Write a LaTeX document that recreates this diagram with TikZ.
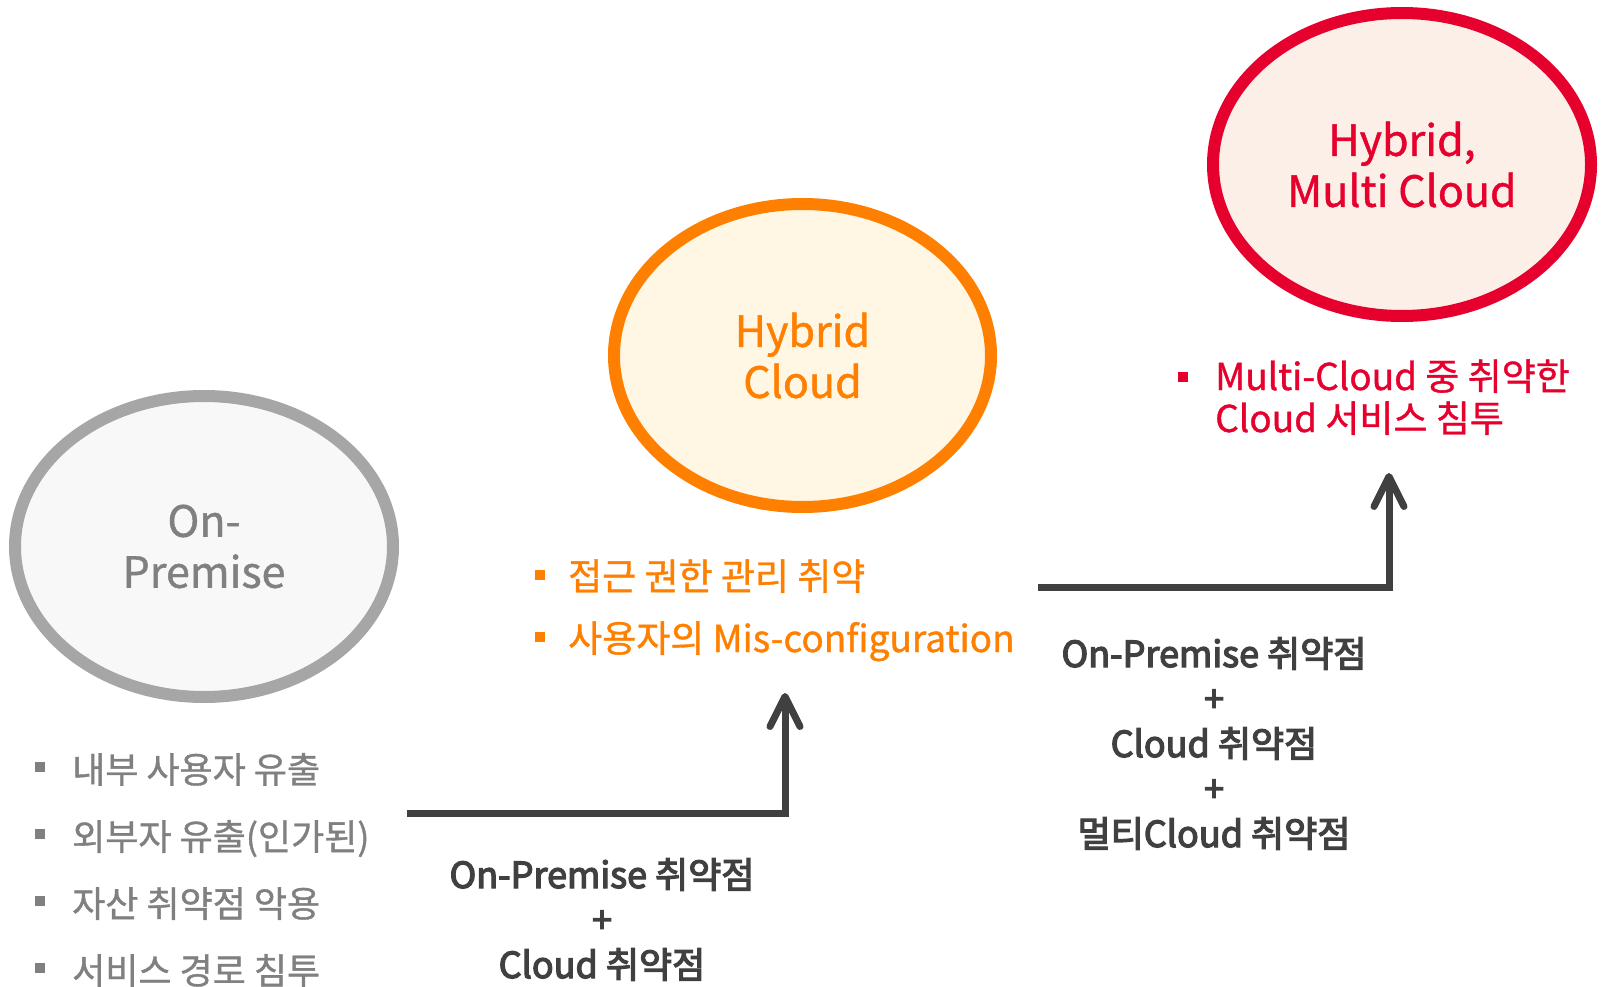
\documentclass[tikz,border=0pt]{standalone}
\usepackage{fontspec}
\setmainfont[FakeBold=1]{Noto Sans CJK KR}
\newfontfamily\labelfont[FakeBold=3.5]{Noto Sans CJK KR}
\usetikzlibrary{shapes.geometric,arrows.meta}
\definecolor{premline}{HTML}{A6A6A6}
\definecolor{premfill}{HTML}{F8F8F8}
\definecolor{premtext}{HTML}{808080}
\definecolor{hyborange}{HTML}{FF7F00}
\definecolor{hybfill}{HTML}{FFF6E3}
\definecolor{multired}{HTML}{E6002D}
\definecolor{multifill}{HTML}{FCEFE7}
\definecolor{darktext}{HTML}{404040}
\newcommand{\bsq}[2]{\rule[#1]{10pt}{10pt}\hspace{#2}}

\begin{document}
\begin{tikzpicture}[x=1pt,y=-1pt,
    phase/.style={ellipse,line width=12pt,inner sep=0pt,align=center,
      font=\fontsize{43}{51}\selectfont},
    item/.style={anchor=base west,inner sep=0pt,align=left,
      font=\fontsize{36}{42}\selectfont},
    gain/.style={anchor=base,inner sep=0pt,align=center,text=darktext,
      font=\labelfont\fontsize{36}{45}\selectfont},
    flow/.style={draw=darktext,line width=7pt,
      -{Straight Barb[length=30pt,width=30pt,round]}}]
  \useasboundingbox (0,0) rectangle (1601,987);
  %
  \node[phase,draw=premline,fill=premfill,text=premtext,
    minimum width=378,minimum height=301] (onprem) at (204,546.5) {On-\\Premise};
  \node[phase,draw=hyborange,fill=hybfill,text=hyborange,
    minimum width=377,minimum height=303] (hybrid) at (802.5,355.5) {Hybrid\\Cloud};
  \node[phase,draw=multired,fill=multifill,text=multired,
    minimum width=378,minimum height=303] (multi) at (1402,164.5) {Hybrid,\\Multi Cloud};
  %
  \foreach \t [count=\i] in {내부 사용자 유출,외부자 유출(인가된),자산 취약점 악용,서비스 경로 침투}{
    \node[item,text=premtext] (prem\i) at (35,{783+67*(\i-1)}) {\bsq{11pt}{27pt}\t};
  }
  \node[item,text=hyborange,font=\fontsize{37}{42}\selectfont] (hyb1) at (535,590)
    {\bsq{10pt}{23pt}접근 권한 관리 취약};
  \node[item,text=hyborange,font=\fontsize{37}{42}\selectfont] (hyb2) at (535,652)
    {\bsq{10pt}{23pt}사용자의 Mis-configuration};
  \node[item,text=multired,font=\fontsize{37}{42}\selectfont] (multi1) at (1178,432)
    {\bsq{8pt}{27pt}Multi-Cloud 중 취약한\\\hspace{37pt}Cloud 서비스 침투};
  %
  \coordinate (s1) at (407,813);
  \coordinate (t1) at (785,693);
  \coordinate (s2) at (1038,587);
  \coordinate (t2) at (1389,473);
  \draw[flow] (s1) -| (t1);
  \draw[flow] (s2) -| (t2);
  %
  \node[gain] (gain1) at (602,978) {On-Premise 취약점\\+\\Cloud 취약점};
  \node[gain] (gain2) at (1214,847) {On-Premise 취약점\\+\\Cloud 취약점\\+\\멀티Cloud 취약점};
\end{tikzpicture}
\end{document}
